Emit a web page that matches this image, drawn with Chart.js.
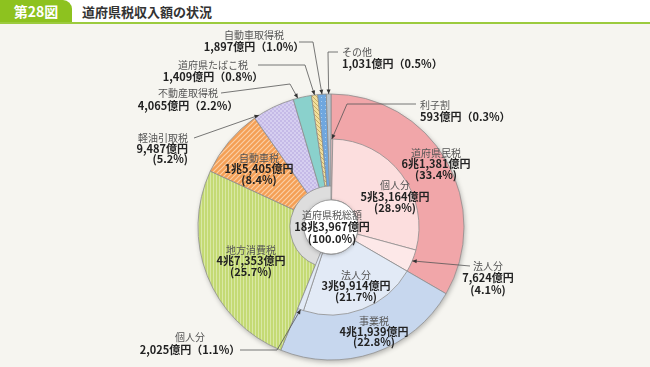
<!DOCTYPE html>
<html>
<head>
<meta charset="utf-8">
<script src="https://cdn.jsdelivr.net/npm/chart.js@4.4.0/dist/chart.umd.min.js"></script>
<style>
html, body { margin: 0; padding: 0; }
body { width: 650px; height: 367px; background: #f6f5f0; position: relative; overflow: hidden; font-family: "Noto Sans CJK JP", sans-serif; }
#head { position: absolute; left: 0; top: 0; width: 650px; height: 22px; background: #fff; border-bottom: 2px solid #9ccb3e; }
#tab { position: absolute; left: 0; top: 0; width: 72px; height: 22px; background: #8dc21f; border-top-right-radius: 9px; color: #fff; font-weight: bold; font-size: 14px; line-height: 22px; text-align: center; }
#ttl { position: absolute; left: 82px; top: 0; line-height: 23px; font-size: 13px; font-weight: bold; color: #333; }
.layer { position: absolute; left: 0; top: 0; width: 650px; height: 367px; }
</style>
</head>
<body>
<div id="head"><div id="tab">第28図</div><div id="ttl">道府県税収入額の状況</div></div>
<div class="layer"><canvas id="base"></canvas></div>
<div class="layer"><canvas id="top"></canvas></div>
<script>
// 道府県税 (億円), clockwise from 12 o'clock
const categories = ['道府県民税', '事業税', '地方消費税', '自動車税', '軽油引取税', '不動産取得税', '道府県たばこ税', '自動車取得税', 'その他'];
const amounts = [61381, 41939, 47353, 15405, 9487, 4065, 1409, 1897, 1031];
const shares = [33.4, 22.8, 25.7, 8.4, 5.2, 2.2, 0.8, 1.0, 0.5];

// breakdown of 道府県民税 and 事業税 (inner ring)
const subCategories = ['利子割', '個人分', '法人分', '法人分', '個人分'];
const subAmounts = [593, 53164, 7624, 39914, 2025];
const subShares = [0.3, 28.9, 4.1, 21.7, 1.1];

const totalLabel = '道府県税総額';
const totalAmount = 183967;
const totalShare = 100.0;

function fmtOku(v) {
  if (v >= 10000) return Math.floor(v / 10000) + '兆' + (v % 10000).toLocaleString('en-US') + '億円';
  return v.toLocaleString('en-US') + '億円';
}

function pat(w, h, fn) {
  const c = document.createElement('canvas');
  c.width = w; c.height = h;
  const g = c.getContext('2d');
  fn(g, w, h);
  return g.createPattern(c, 'repeat');
}

// fills
const greenStripe = pat(3, 1, (g) => { g.fillStyle = '#c4da74'; g.fillRect(0, 0, 3, 1); g.fillStyle = '#d9e8a4'; g.fillRect(0, 0, 1, 1); });
const orangeStripe = pat(5, 5, (g) => {
  g.fillStyle = '#f49f55'; g.fillRect(0, 0, 5, 5);
  g.strokeStyle = '#fbcfa6'; g.lineWidth = 1.2;
  g.beginPath(); g.moveTo(-1, 6); g.lineTo(6, -1); g.moveTo(-1, 1); g.lineTo(1, -1); g.moveTo(4, 6); g.lineTo(6, 4); g.stroke();
});
const lavenderCheck = pat(4, 4, (g) => { g.fillStyle = '#d6cff0'; g.fillRect(0, 0, 4, 4); g.fillStyle = '#c5bae7'; g.fillRect(0, 0, 2, 2); g.fillRect(2, 2, 2, 2); });
const yellowHatch = pat(4, 4, (g) => {
  g.fillStyle = '#f1de9c'; g.fillRect(0, 0, 4, 4);
  g.strokeStyle = '#c8ae64'; g.lineWidth = 1;
  g.beginPath(); g.moveTo(-1, -1); g.lineTo(5, 5); g.stroke();
});
const blueDots = pat(4, 4, (g) => { g.fillStyle = '#6fa7df'; g.fillRect(0, 0, 4, 4); g.fillStyle = '#a9cdef'; g.fillRect(1, 1, 1, 1); });

const outerFills = ['#f1a6a9', '#c7d7ee', greenStripe, orangeStripe, lavenderCheck, '#8ad1cc', yellowHatch, blueDots, '#bac4cd'];
const innerFills = ['#f6c9cb', '#fcdede', '#fde8e8', '#e2eaf6', '#e2eaf6', 'rgba(0,0,0,0)'];

const pieOpts = (radius) => ({
  responsive: true,
  maintainAspectRatio: false,
  animation: false,
  events: [],
  radius: radius,
  cutout: 43,
  layout: { padding: { left: 12, top: 87 } },
  plugins: { legend: { display: false }, tooltip: { enabled: false } }
});

// soft shadow under the whole pie
const shadowPlugin = {
  id: 'pieShadow',
  beforeDatasetsDraw(chart) {
    const a = chart.getDatasetMeta(0).data[0].getProps(['x', 'y', 'outerRadius'], true);
    const ctx = chart.ctx;
    ctx.save();
    ctx.shadowColor = 'rgba(0,0,0,0.28)';
    ctx.shadowBlur = 5;
    ctx.shadowOffsetX = 1;
    ctx.shadowOffsetY = 2;
    ctx.beginPath();
    ctx.arc(a.x, a.y, a.outerRadius, 0, Math.PI * 2);
    ctx.fillStyle = '#ddd';
    ctx.fill();
    ctx.restore();
  }
};

const baseChart = new Chart(document.getElementById('base'), {
  type: 'doughnut',
  data: {
    labels: categories,
    datasets: [{ data: amounts, backgroundColor: outerFills, borderColor: '#8e8e8e', borderWidth: 0.8 }]
  },
  options: pieOpts(133),
  plugins: [shadowPlugin]
});

const rest = totalAmount - amounts[0] - amounts[1];

// leader lines: ring, index, position inside slice, points from the label
const leaders = [
  { ring: 'outer', i: 7, f: 0.5, pts: [[299, 42], [313, 42]] },
  { ring: 'outer', i: 8, f: 0.5, pts: [[338, 52], [328, 52]] },
  { ring: 'outer', i: 6, f: 0.5, pts: [[258, 65], [305, 65]] },
  { ring: 'outer', i: 5, f: 0.25, pts: [[221, 93], [290, 84]] },
  { ring: 'outer', i: 4, f: 0.12, pts: [[194, 138]] },
  { ring: 'inner', i: 0, f: 0.5, pts: [[416, 104], [347, 104]] },
  { ring: 'inner', i: 2, f: 0.5, pts: [[470, 266]] },
  { ring: 'inner', i: 4, f: 0.5, pts: [[240, 350], [277, 350]] }
];

// label anchors (x, first line y, line height, align, one-line amount)
const outerPos = [
  { x: 436, y: 153, lh: 11, a: 'center' },
  { x: 374, y: 321, lh: 10.5, a: 'center' },
  { x: 251, y: 250, lh: 11, a: 'center' },
  { x: 259, y: 158, lh: 11, a: 'center' },
  { x: 188, y: 138, lh: 10.5, a: 'right' },
  { x: 188, y: 93, lh: 12.5, a: 'center', one: true },
  { x: 213, y: 65, lh: 12, a: 'center', one: true },
  { x: 254, y: 35, lh: 12, a: 'center', one: true },
  { x: 342, y: 52, lh: 12, a: 'left', one: true }
];
const innerPos = [
  { x: 420, y: 105, lh: 12, a: 'left', one: true },
  { x: 395, y: 185, lh: 11.5, a: 'center' },
  { x: 488, y: 266, lh: 12, a: 'center' },
  { x: 356, y: 275, lh: 11, a: 'center' },
  { x: 190, y: 337, lh: 13, a: 'center', one: true }
];

function drawLabel(ctx, name, amt, pct, p) {
  ctx.textAlign = p.a;
  ctx.textBaseline = 'middle';
  ctx.fillStyle = '#555';
  ctx.font = '10px "Noto Sans CJK JP"';
  ctx.fillText(name, p.x, p.y);
  ctx.fillStyle = '#222';
  ctx.font = 'bold 11px "Noto Sans CJK JP"';
  if (p.one) {
    ctx.fillText(fmtOku(amt) + '（' + pct.toFixed(1) + '%）', p.x, p.y + p.lh);
  } else {
    ctx.fillText(fmtOku(amt), p.x, p.y + p.lh);
    ctx.fillText('(' + pct.toFixed(1) + '%)', p.x, p.y + 2 * p.lh);
  }
}

const labelPlugin = {
  id: 'labels',
  afterDraw(chart) {
    const ctx = chart.ctx;
    const outerArcs = baseChart.getDatasetMeta(0).data;
    const innerArcs = chart.getDatasetMeta(0).data;
    const c = innerArcs[0].getProps(['x', 'y', 'innerRadius'], true);

    ctx.save();
    // centre disc
    ctx.save();
    ctx.shadowColor = 'rgba(0,0,0,0.25)';
    ctx.shadowBlur = 4;
    ctx.shadowOffsetY = 1;
    ctx.beginPath();
    ctx.arc(c.x, c.y, c.innerRadius, 0, Math.PI * 2);
    ctx.fillStyle = '#fff';
    ctx.fill();
    ctx.restore();
    ctx.lineWidth = 0.8;
    ctx.strokeStyle = '#8e8e8e';
    ctx.stroke();

    // leader lines with arrow heads
    leaders.forEach((l) => {
      const arc = (l.ring === 'outer' ? outerArcs : innerArcs)[l.i];
      const p = arc.getProps(['x', 'y', 'startAngle', 'endAngle', 'outerRadius'], true);
      const ang = p.startAngle + l.f * (p.endAngle - p.startAngle);
      const tx = p.x + p.outerRadius * Math.cos(ang);
      const ty = p.y + p.outerRadius * Math.sin(ang);
      const pts = l.pts.concat([[tx, ty]]);
      ctx.beginPath();
      ctx.moveTo(pts[0][0], pts[0][1]);
      for (let k = 1; k < pts.length; k++) ctx.lineTo(pts[k][0], pts[k][1]);
      ctx.strokeStyle = '#555';
      ctx.lineWidth = 0.8;
      ctx.stroke();
      const [sx, sy] = pts[pts.length - 2];
      const d = Math.atan2(ty - sy, tx - sx);
      ctx.beginPath();
      ctx.moveTo(tx, ty);
      ctx.lineTo(tx - 4.5 * Math.cos(d) + 2 * Math.sin(d), ty - 4.5 * Math.sin(d) - 2 * Math.cos(d));
      ctx.lineTo(tx - 4.5 * Math.cos(d) - 2 * Math.sin(d), ty - 4.5 * Math.sin(d) + 2 * Math.cos(d));
      ctx.closePath();
      ctx.fillStyle = '#333';
      ctx.fill();
    });

    categories.forEach((n, i) => drawLabel(ctx, n, amounts[i], shares[i], outerPos[i]));
    subCategories.forEach((n, i) => drawLabel(ctx, n, subAmounts[i], subShares[i], innerPos[i]));
    drawLabel(ctx, totalLabel, totalAmount, totalShare, { x: c.x + 1, y: 215, lh: 12, a: 'center' });
    ctx.restore();
  }
};

new Chart(document.getElementById('top'), {
  type: 'doughnut',
  data: {
    labels: subCategories.concat(['']),
    datasets: [{
      data: subAmounts.concat([rest]),
      backgroundColor: innerFills,
      borderColor: '#8e8e8e',
      borderWidth: [0.8, 0.8, 0.8, 0.8, 0.8, 0]
    }]
  },
  options: pieOpts(88),
  plugins: [labelPlugin]
});
</script>
</body>
</html>
